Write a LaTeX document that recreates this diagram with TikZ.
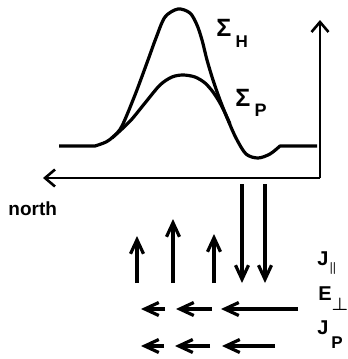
\documentclass[tikz,border=0pt]{standalone}
\usepackage{fontspec}
\setmainfont{Liberation Sans}
\usetikzlibrary{arrows.meta}

\begin{document}
\begin{tikzpicture}[x=0.5pt,y=-0.5pt,font=\bfseries,
  axis/.style={line width=1.3pt,-{Straight Barb[length=5pt,width=8.5pt]}},
  flow/.style={line width=1.6pt,-{Straight Barb[length=7pt,width=6.5pt]}},
  curve/.style={line width=1.6pt,line join=round},
  lbl/.style={inner sep=0pt,anchor=base west}]
\useasboundingbox (0,0) rectangle (348,359);
\coordinate (o) at (320,178);
\draw[axis] (o) -- (320,20);
\draw[axis] (o) -- (43,178);
\node[lbl,font=\bfseries\fontsize{9.5}{11}\selectfont] (north) at (8,215) {north};
% the two conductances
\draw[curve] (59,146) -- plot[smooth,tension=0.5] coordinates {(95,146) (106,142) (114,136) (122,126) (135,95) (148,60) (156,38) (165,17) (178,9) (190,13) (197,25) (202,40) (207,60) (213,80) (220,100) (228,120) (236,138) (246,154) (258,158) (270,154) (280,146)} -- (317,146);
\draw[curve] plot[smooth,tension=0.5] coordinates {(112,138) (122,129) (132,119) (145,103) (160,85) (172,77) (183,75) (195,77) (205,83) (213,92) (220,103) (226,115) (230,124)};
\node[lbl,font=\bfseries\fontsize{12.5}{14}\selectfont] (sigH) at (216,36) {Σ\,\raisebox{-5.5pt}{\fontsize{8.5}{9}\selectfont H}};
\node[lbl,font=\bfseries\fontsize{12.5}{14}\selectfont] (sigP) at (235,106) {Σ\,\raisebox{-5pt}{\fontsize{9}{10}\selectfont P}};
% field-aligned currents
\draw[flow] (137,283) -- (137,236);
\draw[flow] (173,283) -- (173,219);
\draw[flow] (214,283) -- (214,234);
\draw[flow] (242,184) -- (242,283);
\draw[flow] (265,184) -- (265,283);
\node[lbl,font=\bfseries\fontsize{10}{12}\selectfont] (jpar) at (317,265) {J\raisebox{-3pt}{\fontsize{6.5}{7}\selectfont\boldmath$\parallel$}};
% electric field
\draw[flow] (165,309) -- (141,309);
\draw[flow] (212,309) -- (176,309);
\draw[flow] (298,309) -- (221,309);
\node[lbl,font=\bfseries\fontsize{10}{12}\selectfont] (eperp) at (318,300) {E\raisebox{-5pt}{\fontsize{9}{10}\selectfont\boldmath$\perp$}};
% Pedersen current
\draw[flow] (164,346) -- (141,346);
\draw[flow] (210,346) -- (175,346);
\draw[flow] (275,346) -- (222,346);
\node[lbl,font=\bfseries\fontsize{10}{12}\selectfont] (jped) at (317,334) {J\raisebox{-7pt}{\fontsize{8.5}{9}\selectfont\,P}};
\end{tikzpicture}
\end{document}
